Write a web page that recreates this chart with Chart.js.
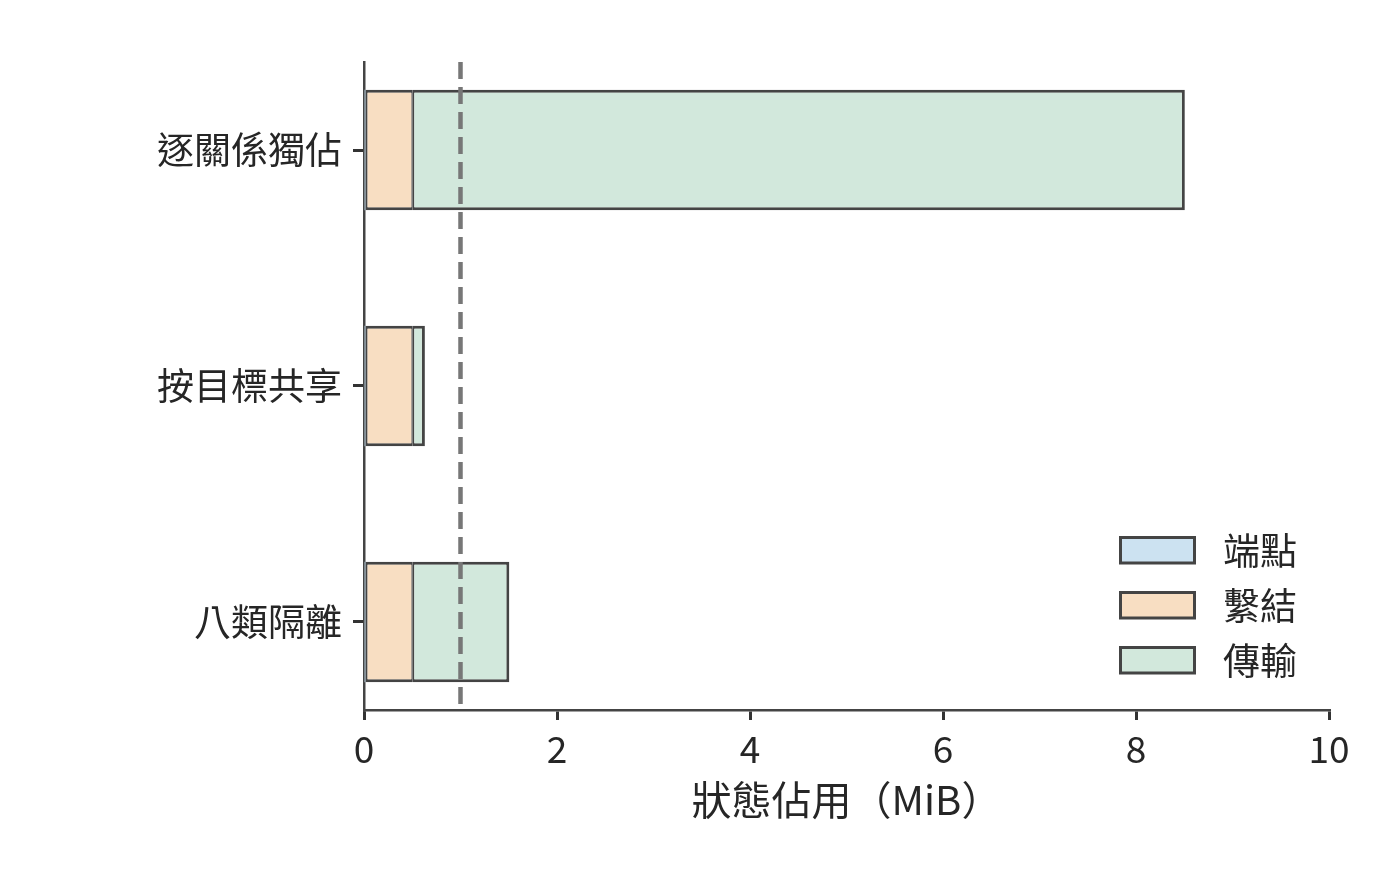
<!DOCTYPE html>
<html>
<head>
<meta charset="utf-8">
<script src="https://cdn.jsdelivr.net/npm/chart.js@4/dist/chart.umd.min.js"></script>
<style>
  html, body { margin: 0; padding: 0; background: #fff; }
  #wrap { width: 1400px; height: 888px; }
</style>
</head>
<body>
<div id="wrap"><canvas id="myChart" width="1400" height="888"></canvas></div>
<script>
'use strict';

// categories (top to bottom) and the three stacked series
let categories = ['逐關係獨佔', '按目標共享', '八類隔離'];
let endpointValues = [0.006, 0.006, 0.006];
let bindingValues = [0.5, 0.5, 0.5];
let transportValues = [8.0, 0.125, 1.0];
let seriesNames = ['端點', '繫結', '傳輸'];
let xTicks = [0, 2, 4, 6, 8, 10];
let limitValue = 1;

let fontFamily = '"Noto Sans CJK TC", "Noto Sans CJK SC", "Noto Sans", sans-serif';
let textColor = '#262626';
let edgeColor = '#444444';
let colors = ['#cce2f1', '#f8dec2', '#d2e8dc'];

function toPoints(values) {
  return values.map((v, i) => ({ x: v, y: i }));
}

let dashedLine = {
  id: 'dashedLine',
  afterDatasetsDraw(chart) {
    let ctx = chart.ctx;
    let area = chart.chartArea;
    let px = chart.scales.x.getPixelForValue(limitValue);
    ctx.save();
    ctx.strokeStyle = '#777777';
    ctx.lineWidth = 4.5;
    ctx.setLineDash([17, 8]);
    ctx.beginPath();
    ctx.moveTo(px, area.top);
    ctx.lineTo(px, area.bottom);
    ctx.stroke();
    ctx.restore();
  }
};

let boxLegend = {
  id: 'boxLegend',
  afterDraw(chart) {
    let ctx = chart.ctx;
    ctx.save();
    ctx.font = '37px ' + fontFamily;
    ctx.textBaseline = 'middle';
    ctx.textAlign = 'left';
    for (let i = 0; i < seriesNames.length; i++) {
      let top = 537.5 + i * 55;
      ctx.fillStyle = colors[i];
      ctx.fillRect(1120.5, top, 74, 25.5);
      ctx.strokeStyle = edgeColor;
      ctx.lineWidth = 3;
      ctx.strokeRect(1120.5, top, 74, 25.5);
      ctx.fillStyle = textColor;
      ctx.fillText(seriesNames[i], 1223, top + 13.5);
    }
    ctx.restore();
  }
};

let ctx = document.getElementById('myChart').getContext('2d');

let chart = new Chart(ctx, {
  type: 'bar',
  data: {
    datasets: [
      {
        label: seriesNames[0],
        data: toPoints(endpointValues),
        backgroundColor: colors[0],
        borderColor: edgeColor,
        borderWidth: 0,
        borderSkipped: false
      },
      {
        label: seriesNames[1],
        data: toPoints(bindingValues),
        backgroundColor: colors[1],
        borderColor: edgeColor,
        borderWidth: { top: 3, right: 1.5, bottom: 3, left: 3 },
        borderSkipped: false
      },
      {
        label: seriesNames[2],
        data: toPoints(transportValues),
        backgroundColor: colors[2],
        borderColor: edgeColor,
        borderWidth: { top: 3, right: 3, bottom: 3, left: 1.5 },
        borderSkipped: false
      }
    ]
  },
  options: {
    indexAxis: 'y',
    responsive: false,
    animation: false,
    devicePixelRatio: 1,
    layout: { padding: { left: 0, top: 62, right: 71, bottom: 60 } },
    datasets: {
      bar: { categoryPercentage: 1, barPercentage: 0.51 }
    },
    plugins: {
      legend: { display: false },
      tooltip: { enabled: false }
    },
    scales: {
      x: {
        type: 'linear',
        stacked: true,
        min: 0,
        max: 10,
        afterBuildTicks: (scale) => { scale.ticks = xTicks.map(v => ({ value: v })); },
        afterFit: (scale) => { scale.height = 118; },
        grid: { drawOnChartArea: false, drawTicks: true, tickLength: 10, color: '#333', lineWidth: 3 },
        border: { color: edgeColor, width: 2.5 },
        ticks: { color: textColor, font: { family: fontFamily, size: 37 }, padding: 7 },
        title: {
          display: true,
          text: '狀態佔用（MiB）',
          color: textColor,
          font: { family: fontFamily, size: 40 },
          padding: { top: 0, bottom: 4 }
        }
      },
      y: {
        type: 'linear',
        stacked: true,
        reverse: true,
        offset: false,
        min: -0.373,
        max: 2.373,
        afterBuildTicks: (scale) => { scale.ticks = categories.map((c, i) => ({ value: i })); },
        afterFit: (scale) => { scale.width = 364; },
        grid: { offset: false, drawOnChartArea: false, drawTicks: true, tickLength: 11, color: '#333', lineWidth: 3 },
        border: { color: edgeColor, width: 2.5 },
        ticks: {
          color: textColor,
          font: { family: fontFamily, size: 37 },
          padding: 11,
          callback: (v) => categories[v]
        }
      }
    }
  },
  plugins: [dashedLine, boxLegend]
});
</script>
</body>
</html>
